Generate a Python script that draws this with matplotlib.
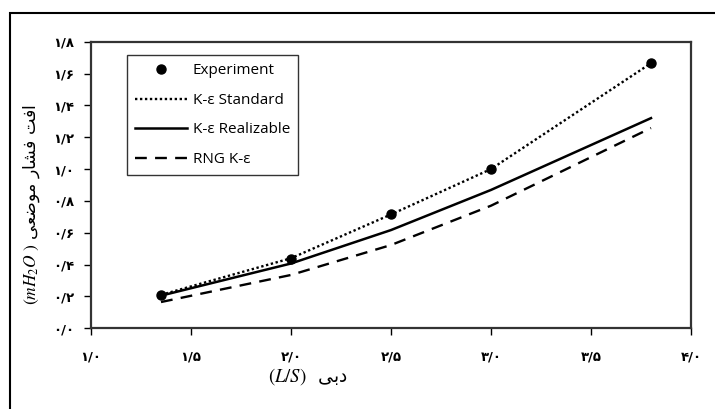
import matplotlib
matplotlib.use('Agg')
import matplotlib.pyplot as plt
from matplotlib.patches import Rectangle

# flow rate (L/S) and local head loss (m H2O)
flow = [1.35, 2.0, 2.5, 3.0, 3.8]
experiment = [0.21, 0.435, 0.72, 1.0, 1.665]
ke_standard = [0.21, 0.44, 0.715, 1.0, 1.665]
ke_realizable = [0.205, 0.407, 0.617, 0.869, 1.32]
rng_ke = [0.165, 0.335, 0.523, 0.77, 1.258]

x_ticks = [1.0, 1.5, 2.0, 2.5, 3.0, 3.5, 4.0]
x_tick_labels = ['۱/۰', '۱/۵', '۲/۰', '۲/۵', '۳/۰', '۳/۵', '۴/۰']
y_ticks = [0.0, 0.2, 0.4, 0.6, 0.8, 1.0, 1.2, 1.4, 1.6, 1.8]
y_tick_labels = ['۰/۰', '۰/۲', '۰/۴', '۰/۶', '۰/۸', '۱/۰', '۱/۲', '۱/۴', '۱/۶', '۱/۸']

# persian words in visual (shaped, left-to-right) order
x_word = '\uFEF0\uFE91\uFEA9'  # dbi
y_words = ('\uFEF0\uFECC\uFEBF\uFEEE\uFEE3' + ' '
           + '\uFEAD\uFE8E\uFEB8\uFED3' + ' '
           + '\uFE96\uFED3\uFE8D')

plt.rcParams['mathtext.fontset'] = 'stix'
W, H = 715, 409
fig = plt.figure(figsize=(W / 100, H / 100), dpi=100)
ax = fig.add_axes([91 / W, 1 - 328.3 / H, 600 / W, 286.6 / H])

ax.plot(flow, ke_standard, color='black', lw=1.7, linestyle=(0, (1, 1.1)), label='K-ε Standard')
ax.plot(flow, ke_realizable, color='black', lw=1.8, label='K-ε Realizable')
ax.plot(flow, rng_ke, color='black', lw=1.7, linestyle=(0, (5, 3.5)), label='RNG K-ε')
ax.plot(flow, experiment, 'o', color='black', markersize=6.5, label='Experiment', zorder=5)

ax.set_xlim(1.0, 4.0)
ax.set_ylim(0.0, 1.8)
ax.set_xticks(x_ticks)
ax.set_xticklabels(x_tick_labels, fontsize=9.5, fontweight='bold', family='DejaVu Sans')
ax.set_yticks(y_ticks)
ax.set_yticklabels(y_tick_labels, fontsize=9.5, fontweight='bold', family='DejaVu Sans')
ax.tick_params(axis='x', direction='out', length=5, width=1, pad=11)
ax.tick_params(axis='y', direction='out', length=5, width=1, pad=7)
for s in ax.spines.values():
    s.set_linewidth(1.6)
    s.set_color('#333333')

handles, labels = ax.get_legend_handles_labels()
order = [3, 0, 1, 2]
leg = ax.legend([handles[i] for i in order], [labels[i] for i in order],
                loc='upper left', bbox_to_anchor=(127 / W, 1 - 55 / H),
                bbox_transform=fig.transFigure, frameon=True, fancybox=False,
                edgecolor='black', prop={'family': 'Open Sans', 'size': 11},
                handlelength=3.4, labelspacing=0.95, handletextpad=0.35,
                borderpad=0.55, borderaxespad=0)
leg.get_frame().set_linewidth(1.0)

fig.text(308 / W, 1 - 377 / H, '$(L/S)$  ' + x_word, ha='center', va='center',
         fontsize=13.5, family='DejaVu Sans')
fig.text(32 / W, 1 - 205 / H, '$(mH_2O\\ )$ ' + y_words, ha='center', va='center',
         rotation=90, fontsize=12.5, family='DejaVu Sans')

# outer frame
fig.patches.append(Rectangle((10 / W, -0.2), 1.2, 1.2 - 13 / H,
                             transform=fig.transFigure, fill=False,
                             edgecolor='black', lw=1.5))

fig.savefig('out.png', dpi=100)
